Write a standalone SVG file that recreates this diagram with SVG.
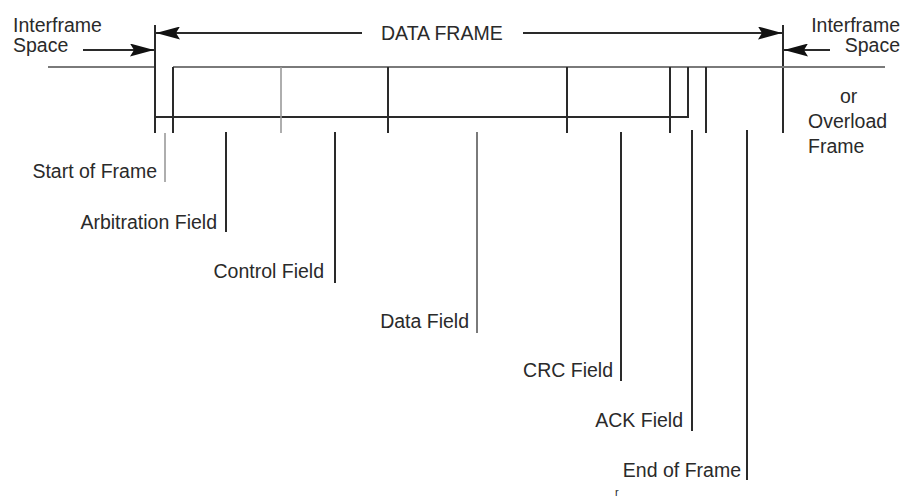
<svg xmlns="http://www.w3.org/2000/svg" width="906" height="498" viewBox="0 0 906 498">
<style>
text{font-family:"Liberation Sans",Arial,sans-serif;font-size:19.5px;fill:#2a2a2a}
.e{text-anchor:end}
.d{stroke:#2a2a2a;stroke-width:2;fill:none}
.g{stroke:#7a7a7a;stroke-width:2;fill:none}
.l{stroke:#9a9a9a;stroke-width:1.6;fill:none}
</style>
<defs>
<marker id="ah" markerUnits="userSpaceOnUse" markerWidth="24" markerHeight="13" viewBox="0 0 24 13" refX="24" refY="6.5" orient="auto">
<path d="M0,0 L24,6.5 L0,13 L4,6.5 Z" fill="#111"/>
</marker>
</defs>
<rect width="906" height="498" fill="#fff"/>
<g id="connectors">
<path class="d" d="M362,33 H156" marker-end="url(#ah)"/>
<path class="d" d="M523,33 H782" marker-end="url(#ah)"/>
<path class="d" d="M83,50 H154" marker-end="url(#ah)"/>
<path class="d" d="M830,50 H784" marker-end="url(#ah)"/>
<path class="d" d="M155,25 V133"/>
<path class="d" d="M783,25 V133"/>
<path class="g" d="M48,67 H154"/>
<path class="g" d="M173,67 H885"/>
<path class="d" d="M173,67 V133"/>
<path class="d" d="M155,117 H688 V67"/>
<path class="l" d="M281,67 V133"/>
<path class="d" d="M388,67 V133"/>
<path class="d" d="M567,67 V133"/>
<path class="d" d="M670,67 V133"/>
<path class="d" d="M706,67 V133"/>
<path class="l" d="M165,133 V182"/>
<path class="d" d="M226,132 V232"/>
<path class="d" d="M335,132 V283"/>
<path class="g" d="M477,132 V333"/>
<path class="d" d="M621,132 V381"/>
<path class="d" d="M692,130 V431"/>
<path class="d" d="M747,130 V480"/>
</g>
<g id="ifs-left"><text x="13" y="32">Interframe</text><text x="13" y="52">Space</text></g>
<g id="ifs-right"><text class="e" x="900" y="32">Interframe</text><text class="e" x="900" y="52">Space</text></g>
<g id="data-frame"><text x="381" y="40">DATA FRAME</text></g>
<g id="overload"><text x="840" y="103">or</text><text x="808" y="128">Overload</text><text x="808" y="153">Frame</text></g>
<g id="sof"><text class="e" x="157" y="178">Start of Frame</text></g>
<g id="arb"><text class="e" x="217" y="229">Arbitration Field</text></g>
<g id="ctrl"><text class="e" x="324" y="278">Control Field</text></g>
<g id="data"><text class="e" x="469" y="328">Data Field</text></g>
<g id="crc"><text class="e" x="613" y="377">CRC Field</text></g>
<g id="ack"><text class="e" x="683" y="427">ACK Field</text></g>
<g id="eof"><text class="e" x="741" y="477">End of Frame</text></g>
<g id="mark"><text x="615" y="496" style="font-size:11px">r</text></g>
</svg>
